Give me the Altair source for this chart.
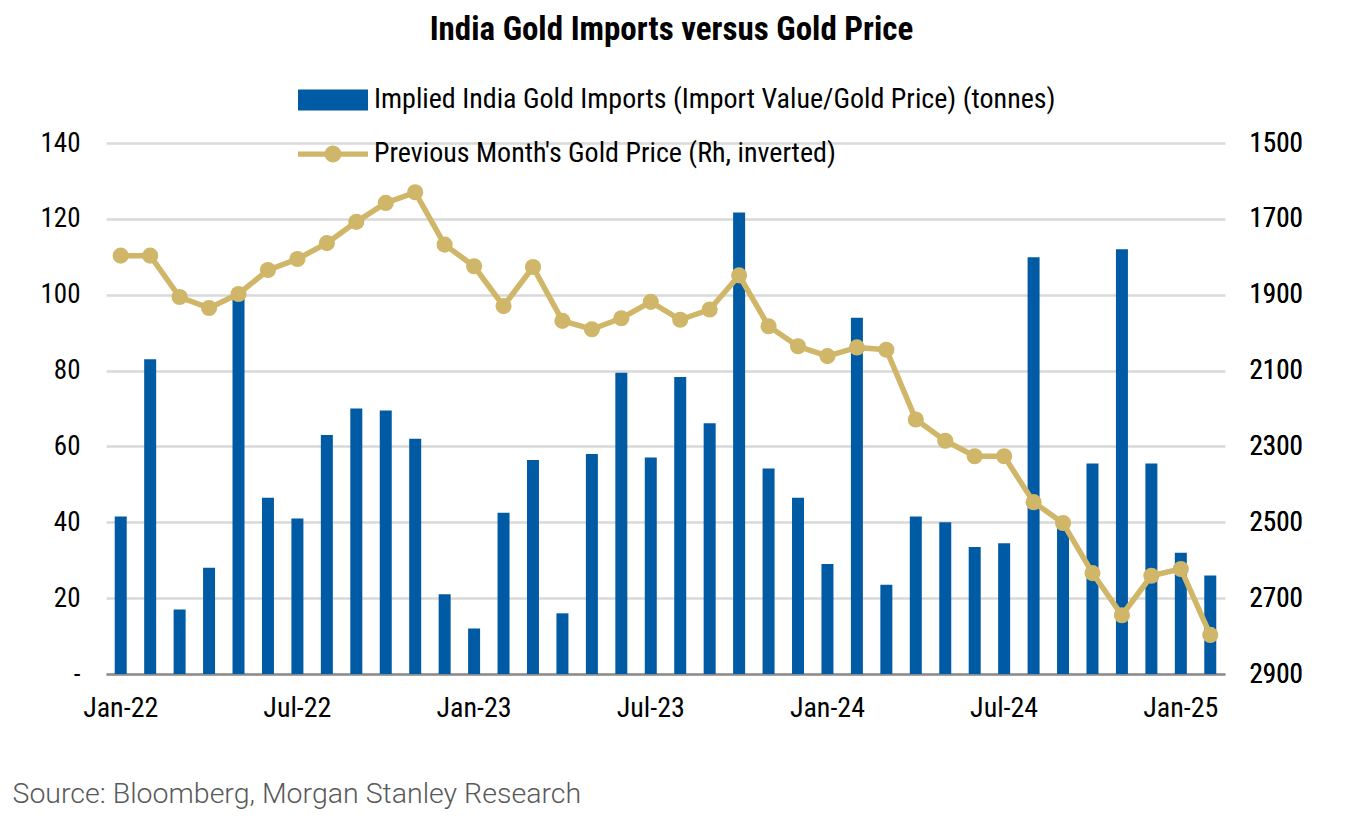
import pandas as pd
import altair as alt

months = [
    'Jan-22', 'Feb-22', 'Mar-22', 'Apr-22', 'May-22', 'Jun-22', 'Jul-22', 'Aug-22', 'Sep-22', 'Oct-22', 'Nov-22', 'Dec-22',
    'Jan-23', 'Feb-23', 'Mar-23', 'Apr-23', 'May-23', 'Jun-23', 'Jul-23', 'Aug-23', 'Sep-23', 'Oct-23', 'Nov-23', 'Dec-23',
    'Jan-24', 'Feb-24', 'Mar-24', 'Apr-24', 'May-24', 'Jun-24', 'Jul-24', 'Aug-24', 'Sep-24', 'Oct-24', 'Nov-24', 'Dec-24',
    'Jan-25', 'Feb-25',
]
imports_t = [41.5, 83, 17, 28, 101, 46.5, 41, 63, 70, 69.5, 62, 21,
             12, 42.5, 56.4, 16, 58, 79.4, 57.1, 78.3, 66.1, 121.7, 54.2, 46.5,
             29, 93.9, 23.5, 41.5, 40, 33.5, 34.5, 109.9, 40, 55.5, 112, 55.5,
             32, 26]
gold_price = [1797, 1797, 1906, 1935, 1898, 1835, 1806, 1764, 1708, 1658, 1630, 1768,
              1825, 1930, 1827, 1969, 1991, 1962, 1919, 1966, 1939, 1849, 1983, 2036,
              2062, 2039, 2045, 2229, 2285, 2326, 2326, 2447, 2502, 2634, 2745, 2641,
              2623, 2797]
x_ticks = ['Jan-22', 'Jul-22', 'Jan-23', 'Jul-23', 'Jan-24', 'Jul-24', 'Jan-25']

bar_name = 'Implied India Gold Imports (Import Value/Gold Price) (tonnes)'
line_name = "Previous Month's Gold Price (Rh, inverted)"

df = pd.DataFrame({'month': months, 'imports': imports_t, 'price': gold_price})
df['s_bar'] = bar_name
df['s_line'] = line_name

BLUE = '#005BA4'
GOLD = '#CFB669'
COND = 'Liberation Sans Narrow, Roboto Condensed, Roboto'

x = alt.X('month:O', sort=months, scale=alt.Scale(paddingInner=0.58, paddingOuter=0.29),
          axis=alt.Axis(values=x_ticks, labelAngle=0, labelFont=COND, labelFontSize=28,
                        labelColor='#000000', labelPadding=20, ticks=False,
                        domainColor='#8C8C8C', domainWidth=2.5,
                        title='Source: Bloomberg, Morgan Stanley Research',
                        titleFont='Roboto', titleFontWeight=300, titleFontSize=28.5,
                        titleColor='#595959', titleAnchor='start', titleAlign='left',
                        titleX=-94, titleY=105))

bars = alt.Chart(df).mark_bar(size=12).encode(
    x=x,
    y=alt.Y('imports:Q', scale=alt.Scale(domain=[0, 140]),
            axis=alt.Axis(values=[0, 20, 40, 60, 80, 100, 120, 140], title=None,
                          labelExpr="datum.value == 0 ? '-' : datum.label",
                          labelFont=COND, labelFontSize=27, labelColor='#000000',
                          labelPadding=26, ticks=False, domain=False,
                          gridColor='#D9D9D9', gridWidth=2.5)),
    color=alt.Color('s_bar:N', scale=alt.Scale(domain=[bar_name], range=[BLUE]),
                    legend=alt.Legend(title=None, orient='none', legendX=192, legendY=-78,
                                      symbolType='M-1,-0.3 L1,-0.3 L1,0.3 L-1,0.3 Z',
                                      symbolSize=4900, symbolStrokeWidth=0,
                                      labelFont=COND, labelFontSize=28, labelColor='#000000',
                                      labelOffset=6, labelLimit=900)),
)

price_y = alt.Y('price:Q', scale=alt.Scale(domain=[1500, 2900], reverse=True),
                axis=alt.Axis(orient='right', values=list(range(1500, 3000, 200)), title=None,
                              format='d', labelFont=COND, labelFontSize=27, labelColor='#000000',
                              labelPadding=24, ticks=False, domain=False, grid=False))

line = alt.Chart(df).mark_line(color=GOLD, strokeWidth=5.5).encode(x=x, y=price_y)

points = alt.Chart(df).mark_circle(size=260, opacity=1).encode(
    x=x,
    y=price_y,
    color=alt.Color('s_line:N', scale=alt.Scale(domain=[line_name], range=[GOLD]),
                    legend=alt.Legend(title=None, orient='none', legendX=192, legendY=-24,
                                      symbolType='M-1,-0.075 L1,-0.075 L1,0.075 L-1,0.075 Z '
                                                 'M0.24,0 A0.24,0.24 0 1,1 -0.24,0 A0.24,0.24 0 1,1 0.24,0 Z',
                                      symbolSize=4900, symbolStrokeWidth=0, symbolOpacity=1,
                                      labelFont=COND, labelFontSize=28, labelColor='#000000',
                                      labelOffset=6, labelLimit=900)),
)

chart = alt.layer(bars, line, points).resolve_scale(
    y='independent', color='independent'
).properties(
    width=1119,
    height=531,
    autosize=alt.AutoSizeParams(type='none'),
    padding={'left': 98, 'top': 135, 'right': 110, 'bottom': 140},
    title=alt.TitleParams('India Gold Imports versus Gold Price', font=COND, fontSize=33,
                          fontWeight='bold', color='#000000', anchor='middle', offset=18, dx=6),
).configure_view(stroke=None)

chart.save('out.html', embed_options={'renderer': 'svg', 'actions': False})
